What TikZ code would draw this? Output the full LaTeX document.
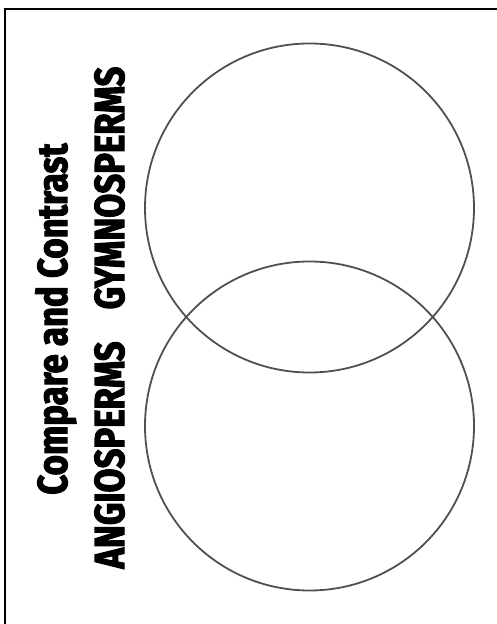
\documentclass[tikz,border=0pt]{standalone}
\usepackage{fontspec}
\setmainfont{Fira Sans}
\newfontfamily\vennfont[FakeStretch=0.83,FakeBold=2.5]{Fira Sans}
\definecolor{ring}{HTML}{505050}
\tikzset{
  venn/.style={circle, draw=ring, line width=1.8bp, minimum size=329bp, inner sep=0pt},
  title/.style={rotate=90, anchor=base, inner sep=0pt,
                font=\vennfont\bfseries\fontsize{42}{42}\selectfont},
  frame/.style={draw=black, line width=2bp}
}
\begin{document}
\begin{tikzpicture}[x=1bp,y=1bp]
  \useasboundingbox (0,0) rectangle (497,624);
  \clip (0,0) rectangle (497,624);
  % page frame, cut at right and bottom
  \draw[frame] (5,-20) rectangle (530,615);
  % the two rings
  \node[venn] (gymno) at (309.5,416) {};
  \node[venn] (angio) at (309.5,198) {};
  % labels, turned on their side
  \node[title] (heading) at (67,305) {Compare and Contrast};
  \node[title] (gymnolbl) at (124,436) {GYMNOSPERMS};
  \node[title] (angiolbl) at (124,169) {ANGIOSPERMS};
\end{tikzpicture}
\end{document}
